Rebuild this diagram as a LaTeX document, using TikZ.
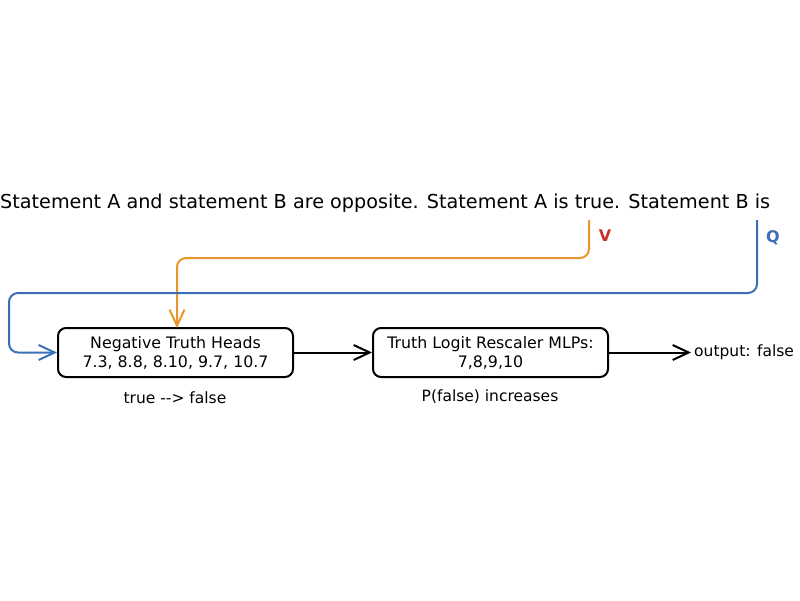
\documentclass[tikz,border=0pt]{standalone}
\usepackage{fontspec}
\setmainfont{DejaVu Sans}
\usetikzlibrary{arrows.meta}
\definecolor{vorange}{HTML}{E8952E}
\definecolor{qblue}{HTML}{3C6FB5}
\definecolor{vred}{HTML}{C8302C}
\begin{document}
\begin{tikzpicture}[x=1pt,y=-1pt,
  box/.style={draw,line width=2pt,rounded corners=8pt,minimum width=235pt,minimum height=49pt,align=center,font=\fontsize{15.8}{19}\selectfont,inner sep=0pt},
  lbl/.style={font=\fontsize{15.5}{19}\selectfont,inner sep=0pt},
  conn/.style={line width=2pt,-{Straight Barb[length=16pt,width=15pt,line width=2pt]}},
  wire/.style={line width=2pt,rounded corners=9pt}]
\useasboundingbox (0,0) rectangle (800,600);
\node[font=\fontsize{19.2}{23}\selectfont,inner sep=0pt,anchor=west] (stmt) at (0,203) {Statement A and statement B are opposite. Statement A is true. Statement B is};
\node[box] (neg) at (175.5,352.5) {Negative Truth Heads\\7.3, 8.8, 8.10, 9.7, 10.7};
\node[box] (mlp) at (490.5,352.5) {Truth Logit Rescaler MLPs:\\7,8,9,10};
\node[lbl,anchor=west] (out) at (694,352.5) {output: false};
\node[lbl] (tf) at (175,398) {true {-}{-}> false};
\node[lbl] (pf) at (490,397) {P(false) increases};
\node[font=\fontsize{16}{19}\selectfont\bfseries,text=vred,inner sep=0pt] (vlab) at (605,236) {V};
\node[font=\fontsize{16}{19}\selectfont\bfseries,text=qblue,inner sep=0pt] (qlab) at (773,238) {Q};
\coordinate (vs) at (589,220);
\coordinate (qs) at (757,220);
\draw[conn] (neg.east) -- (mlp.west);
\draw[conn] (mlp.east) -- ([xshift=-3pt]out.west);
\draw[wire,conn,vorange] (vs) -- (589,258) -- (177,258) -- (177,328);
\draw[wire,conn,qblue] (qs) -- (757,293) -- (9,293) -- (9,352.5) -- (neg.west);
\end{tikzpicture}
\end{document}
